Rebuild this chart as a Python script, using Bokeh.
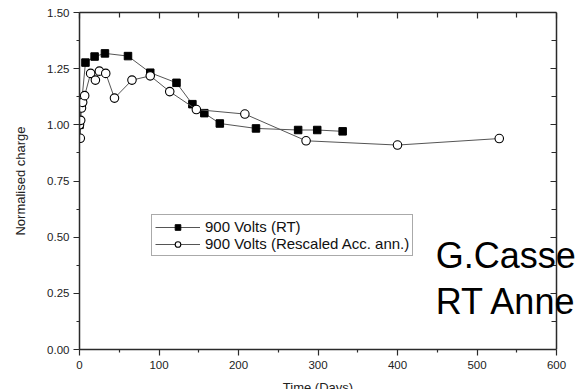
from bokeh.plotting import figure
from bokeh.models import (Range1d, LinearAxis, Legend, LegendItem, Label,
                          NumeralTickFormatter, FixedTicker)
from bokeh.embed import file_html
from bokeh.resources import INLINE

# ---- data ----
rt_days = [0, 7.5, 19, 32, 61, 89, 122, 142, 157, 176.5, 222, 275, 299, 331]
rt_charge = [1.00, 1.277, 1.304, 1.318, 1.306, 1.232, 1.187, 1.092, 1.052,
             1.006, 0.984, 0.977, 0.977, 0.971]

acc_days = [0, 1, 1.5, 2.5, 4, 6.5, 14, 20, 25, 33, 44, 66, 89, 113.5, 147,
            208, 285, 400, 528]
acc_charge = [1.00, 0.94, 1.02, 1.075, 1.10, 1.13, 1.229, 1.199, 1.239, 1.229,
              1.119, 1.199, 1.218, 1.148, 1.068, 1.048, 0.929, 0.910, 0.939]

x_ticks = [0, 100, 200, 300, 400, 500, 600]
y_ticks = [0.0, 0.25, 0.5, 0.75, 1.0, 1.25, 1.5]
series_names = ["900 Volts (RT)", "900 Volts (Rescaled Acc. ann.)"]

FONT = "Liberation Sans"
X_MAX = 600
# the frame runs on to the right edge so the large note is not cut at x=600
X_VIEW_END = X_MAX * (577 - 79) / (556 - 79)

p = figure(width=577, height=389, output_backend="svg", toolbar_location=None,
           x_range=Range1d(0, X_VIEW_END), y_range=Range1d(0, 1.5),
           min_border_left=79, min_border_right=0, min_border_top=12,
           min_border_bottom=40, background_fill_color="white",
           border_fill_color="white")
p.xgrid.visible = False
p.ygrid.visible = False
p.outline_line_color = None

x_minor = [(a + b) / 2 for a, b in zip(x_ticks[:-1], x_ticks[1:])]
y_minor = [(a + b) / 2 for a, b in zip(y_ticks[:-1], y_ticks[1:])]

AX_COL = "#2a2a2a"


def style_axis(ax, labels=True, inward=False):
    ax.axis_line_color = AX_COL
    ax.axis_line_width = 1.5
    ax.major_tick_line_color = AX_COL
    ax.minor_tick_line_color = AX_COL
    ax.major_tick_line_width = 1.2
    ax.minor_tick_line_width = 1.2
    if inward:
        ax.major_tick_in = 6
        ax.major_tick_out = 0
        ax.minor_tick_in = 5
        ax.minor_tick_out = 0
    else:
        ax.major_tick_in = 0
        ax.major_tick_out = 6
        ax.minor_tick_in = 0
        ax.minor_tick_out = 3
    if labels:
        ax.major_label_text_font = FONT
        ax.major_label_text_font_size = "11.5px"
        ax.major_label_text_color = "#222222"
    else:
        ax.major_label_text_font_size = "1px"
        ax.major_label_text_color = None
        ax.major_label_standoff = 0


p.xaxis.ticker = FixedTicker(ticks=x_ticks, minor_ticks=x_minor)
p.yaxis.ticker = FixedTicker(ticks=y_ticks, minor_ticks=y_minor)
p.yaxis.formatter = NumeralTickFormatter(format="0.00")
style_axis(p.xaxis[0])
style_axis(p.yaxis[0])
p.xaxis.bounds = (0, X_MAX)
p.xaxis.major_label_standoff = 5
p.yaxis.major_label_standoff = 4
p.yaxis.axis_label = "Normalised charge"
p.yaxis.axis_label_text_font = FONT
p.yaxis.axis_label_text_font_size = "13px"
p.yaxis.axis_label_text_font_style = "normal"
p.yaxis.axis_label_text_color = "#222222"
p.yaxis.axis_label_standoff = 16

top_ax = LinearAxis(ticker=FixedTicker(ticks=x_ticks, minor_ticks=x_minor),
                    bounds=(0, X_MAX))
style_axis(top_ax, labels=False, inward=True)
p.add_layout(top_ax, "above")

# mirror y axis drawn at x = 600; kept in the left panel, ticks point left
right_ax = LinearAxis(ticker=FixedTicker(ticks=y_ticks, minor_ticks=y_minor),
                      fixed_location=X_MAX)
style_axis(right_ax, labels=False, inward=False)
right_ax.major_tick_out = 6
right_ax.minor_tick_out = 5
p.add_layout(right_ax, "left")

LINE_COL = "#555555"
l1 = p.line(rt_days, rt_charge, line_color=LINE_COL, line_width=1)
s1 = p.scatter(rt_days, rt_charge, marker="square", size=7.5,
               fill_color="black", line_color="black")
l2 = p.line(acc_days, acc_charge, line_color=LINE_COL, line_width=1)
s2 = p.scatter(acc_days, acc_charge, marker="circle", size=8.5,
               fill_color="white", line_color="black", line_width=1.1)

legend = Legend(items=[LegendItem(label=series_names[0], renderers=[l1, s1]),
                       LegendItem(label=series_names[1], renderers=[l2, s2])],
                location=(72, 93), margin=0, padding=3, spacing=0,
                label_height=14, glyph_height=14, glyph_width=45,
                label_standoff=5, label_text_font=FONT,
                label_text_font_size="15px", label_text_color="#111111",
                border_line_color="#555555", border_line_width=1,
                background_fill_color="white", background_fill_alpha=1)
p.add_layout(legend)

# x-axis title, mostly below the visible window as in the reference
p.add_layout(Label(x=300, y=-0.136, text="Time (Days)", text_font=FONT,
                   text_font_size="13px", text_align="center",
                   text_baseline="top", text_color="#222222"), "below")
for txt, yy in [("G.Casse", 0.42), ("RT Anne", 0.215)]:
    p.add_layout(Label(x=448, y=yy, text=txt, text_font=FONT,
                       text_font_size="36px", text_align="left",
                       text_baseline="alphabetic", text_color="black"))

open("out.html", "w").write(file_html(p, INLINE))
